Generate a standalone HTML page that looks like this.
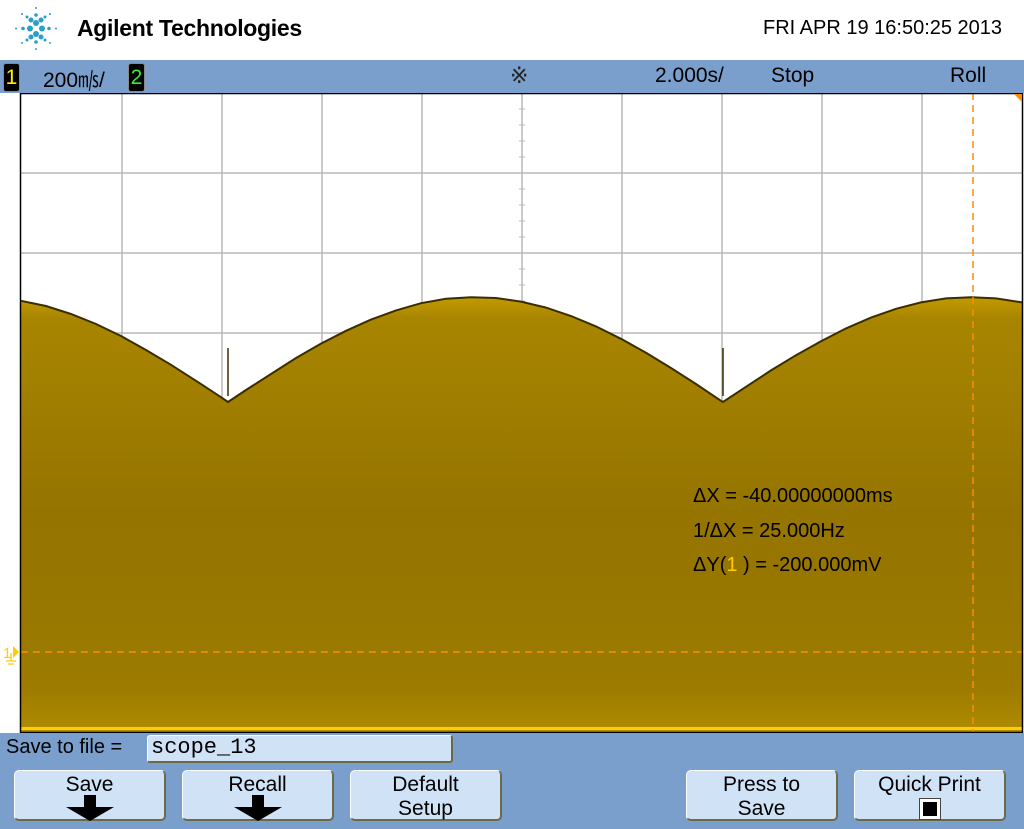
<!DOCTYPE html>
<html><head><meta charset="utf-8"><style>
body{margin:0;width:1024px;height:829px;overflow:hidden;background:#fff;font-family:"Liberation Sans","DejaVu Sans",sans-serif;position:relative}
.abs{position:absolute}
.btn{position:absolute;top:770px;width:152px;height:51px;background:#d0e2f6;border:1px solid #fff;border-right:2px solid #6b6a45;border-bottom:2px solid #6b6a45;border-radius:5px;box-sizing:border-box;text-align:center;font-size:21px;line-height:24px;color:#000;padding-top:2px}
.arrow{width:0;height:0;margin:2px auto 0;border-left:24px solid transparent;border-right:24px solid transparent;border-top:14px solid #000;position:relative;top:8px}
.arrow:before{content:"";position:absolute;left:-6px;top:-26px;width:12px;height:12px;background:#000}
</style></head><body>
<div class="abs" style="left:0;top:0;width:1024px;height:60px;background:#fff"></div>
<svg class="abs" style="left:6px;top:2px" width="60" height="54" viewBox="0 0 60 54">
<g fill="#2aa0c8">
<circle cx="30" cy="21" r="3"/><circle cx="30" cy="32" r="3"/><circle cx="24" cy="26.5" r="3"/><circle cx="36" cy="26.5" r="3"/>
<circle cx="25" cy="18" r="2.5"/><circle cx="35" cy="18" r="2.5"/><circle cx="25" cy="35" r="2.5"/><circle cx="35" cy="35" r="2.5"/>
<circle cx="30" cy="13" r="1.8"/><circle cx="30" cy="40" r="1.8"/><circle cx="17" cy="26.5" r="1.8"/><circle cx="43" cy="26.5" r="1.8"/>
<circle cx="21" cy="15" r="1.5"/><circle cx="39" cy="15" r="1.5"/><circle cx="21" cy="38" r="1.5"/><circle cx="39" cy="38" r="1.5"/>
<circle cx="30" cy="6" r="1"/><circle cx="30" cy="47" r="1"/><circle cx="10" cy="26.5" r="1"/><circle cx="50" cy="26.5" r="1"/>
<circle cx="16" cy="12" r="1"/><circle cx="44" cy="12" r="1"/><circle cx="16" cy="41" r="1"/><circle cx="44" cy="41" r="1"/>
</g></svg>
<div class="abs" style="left:77px;top:15px;font-size:23px;font-weight:bold;letter-spacing:-0.3px">Agilent Technologies</div>
<div class="abs" style="left:763px;top:17px;font-size:20px">FRI APR 19 16:50:25 2013</div>

<div class="abs" style="left:0;top:60px;width:1024px;height:33px;background:#7b9fcc;font-size:21px"></div>
<div class="abs" style="left:3px;top:63px;width:15px;height:27px;background:#000;border:1px solid #888;border-radius:3px;color:#ffee00;font-size:21px;text-align:center;line-height:27px">1</div>
<div class="abs" style="left:43px;top:64px;font-size:21px">200&#x33A7;/</div>
<div class="abs" style="left:128px;top:63px;width:15px;height:27px;background:#000;border:1px solid #888;border-radius:3px;color:#33ee33;font-size:21px;text-align:center;line-height:27px">2</div>
<div class="abs" style="left:510px;top:63px;font-size:22px;color:#222">&#x203B;</div>
<div class="abs" style="left:655px;top:64px;font-size:21px">2.000s/</div>
<div class="abs" style="left:771px;top:64px;font-size:21px">Stop</div>
<div class="abs" style="left:950px;top:64px;font-size:21px">Roll</div>

<svg class="abs" id="plot" style="left:0;top:93px" width="1024" height="640"></svg>

<div class="abs" style="left:693px;top:485px;font-size:20px">&#x394;X = -40.00000000ms</div>
<div class="abs" style="left:693px;top:520px;font-size:20px">1/&#x394;X = 25.000Hz</div>
<div class="abs" style="left:693px;top:554px;font-size:20px">&#x394;Y(<span style="color:#ffcc00">1</span> ) = -200.000mV</div>

<div class="abs" style="left:0;top:733px;width:1024px;height:96px;background:#7b9fcc"></div>
<div class="abs" style="left:6px;top:736px;font-size:20px">Save to file =</div>
<div class="abs" style="left:147px;top:735px;width:306px;height:28px;background:#d0e2f6;border:1px solid #fff;border-right:2px solid #6b6a45;border-bottom:2px solid #6b6a45;border-radius:3px;box-sizing:border-box;font-family:'Liberation Mono',monospace;font-size:22px;padding-left:3px;line-height:24px">scope_13</div>
<div class="btn" style="left:14px">Save<div class="arrow"></div></div>
<div class="btn" style="left:182px">Recall<div class="arrow"></div></div>
<div class="btn" style="left:350px">Default<br>Setup</div>
<div class="btn" style="left:686px">Press to<br>Save</div>
<div class="btn" style="left:854px">Quick Print<br><span style="display:inline-block;width:14px;height:14px;background:#000;border:3px solid #fff;outline:1px solid #444;vertical-align:middle"></span></div>

<script>
// time (s), center of screen = 0, 2 s/div
const times=[-10.02,-9.52,-9.02,-8.52,-8.02,-7.52,-7.02,-6.52,-6.02,-5.88,-5.52,-5.02,-4.52,-4.02,-3.52,-3.02,-2.52,-2.02,-1.52,-1.02,-0.52,-0.02,0.48,0.98,1.48,1.98,2.48,2.98,3.48,3.98,4.02,4.48,4.98,5.48,5.98,6.48,6.98,7.48,7.98,8.48,8.98,9.48,10.0];
const volts=[878,865,845,820,790,755,718,678,637,625,655,695,735,771,803,831,854,872,883,887,885,876,861,840,814,783,748,710,670,628,625,663,704,742,777,809,836,858,874,884,887,884,874];
const spikeTimes=[-5.88,4.02];
const spikeVolts=[760,760];
const cursorTime=9.02, cursorVolt=0;
const NS="http://www.w3.org/2000/svg";
const svg=document.getElementById('plot');
const L=21,R=1022,T=0,B=639;
function xs(t){return 522+t*50;}
function ys(v){return 559-v*0.4;} // ground at y=559 in svg (652 page)
function mk(tag,attrs){const e=document.createElementNS(NS,tag);for(const k in attrs)e.setAttribute(k,attrs[k]);svg.appendChild(e);return e;}
const defs=mk('defs',{});
defs.innerHTML='<linearGradient id="g" x1="0" y1="0" x2="0" y2="1"><stop offset="0" stop-color="#c29a00"/><stop offset="0.05" stop-color="#a88500"/><stop offset="0.5" stop-color="#957400"/><stop offset="0.9" stop-color="#9c7b00"/><stop offset="1" stop-color="#b08c00"/></linearGradient>';
const bg=mk('rect',{x:L,y:0,width:R-L,height:B,fill:'#fff'});

for(let i=1;i<10;i++){const gl=mk('line',{x1:L+i*100+1,x2:L+i*100+1,y1:0,y2:B,stroke:'#b8b8b8','stroke-width':1.5});}
for(let j=1;j<8;j++){const gl=mk('line',{x1:L,x2:R,y1:j*80,y2:j*80,stroke:'#b8b8b8','stroke-width':1.5});}
for(let j=0;j<40;j++){const tk=mk('line',{x1:519,x2:525,y1:j*16,y2:j*16,stroke:'#b8b8b8'});}
let d='M'+L+','+B;
for(let i=0;i<times.length;i++){d+=' L'+Math.max(L,Math.min(R,xs(times[i]))).toFixed(1)+','+ys(volts[i]).toFixed(1);}
d+=' L'+R+','+B+' Z';
const area=mk('path',{d:d,fill:'url(#g)'});

let e='';
for(let i=0;i<times.length;i++){e+=(i?' L':'M')+Math.max(L,Math.min(R,xs(times[i]))).toFixed(1)+','+ys(volts[i]).toFixed(1);}
const edge=mk('path',{d:e,fill:'none',stroke:'#3a2e00','stroke-width':2});

for(let i=0;i<spikeTimes.length;i++){const s=mk('line',{x1:xs(spikeTimes[i]),x2:xs(spikeTimes[i]),y1:ys(spikeVolts[i]),y2:ys(640),stroke:'#3a2e00','stroke-width':1.5});}
const yb=mk('rect',{x:L,y:B-5,width:R-L,height:3,fill:'#ffcc00'});

const cv=mk('line',{x1:xs(cursorTime),x2:xs(cursorTime),y1:0,y2:B,stroke:'#ff8c00','stroke-width':1.5,'stroke-dasharray':'7,5'});

const ch=mk('line',{x1:L,x2:R,y1:ys(cursorVolt),y2:ys(cursorVolt),stroke:'#ff8c00','stroke-width':1.5,'stroke-dasharray':'7,5'});

const fr=mk('rect',{x:L-0.5,y:0.5,width:R-L+1,height:B,fill:'none',stroke:'#000','stroke-width':1.5});

const tri=mk('polygon',{points:(R-8)+',1 '+R+',1 '+R+',9',fill:'#ff8c00'});

const gm=mk('text',{x:3,y:ys(cursorVolt)+6,fill:'#ffcc00','font-size':15,'font-family':'Liberation Sans'});gm.textContent='1';

const ga=mk('polygon',{points:'13,'+(ys(0)-6)+' 19,'+ys(0)+' 13,'+(ys(0)+6),fill:'#ffcc00'});

const gg=mk('path',{d:'M11,'+(ys(0)+1)+' v8 M6,'+(ys(0)+9)+' h10 M8,'+(ys(0)+12)+' h6',stroke:'#ffcc00','stroke-width':1.3,fill:'none'});

</script>
</body></html>
